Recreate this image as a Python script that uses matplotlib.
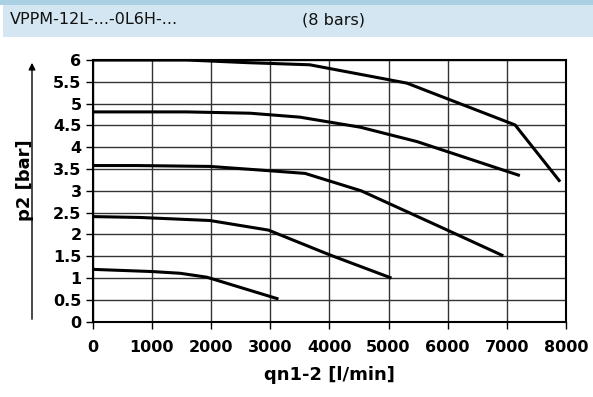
import matplotlib.pyplot as plt
from matplotlib.patches import Rectangle

# flow [l/min] vs outlet pressure [bar], one curve per set pressure
q_6 = [0, 1590, 2600, 3670, 5310, 7140, 7900]
p_6 = [6.0, 6.0, 5.94, 5.89, 5.47, 4.51, 3.21]

q_48 = [0, 1590, 2660, 3500, 4520, 5480, 7220]
p_48 = [4.81, 4.81, 4.78, 4.69, 4.46, 4.13, 3.35]

q_355 = [0, 740, 1980, 3000, 3590, 4540, 6010, 6940]
p_355 = [3.58, 3.58, 3.56, 3.46, 3.40, 3.0, 2.09, 1.51]

q_24 = [0, 800, 1980, 2970, 4010, 5050]
p_24 = [2.41, 2.39, 2.32, 2.10, 1.53, 1.0]

q_12 = [0, 1000, 1480, 1930, 3140]
p_12 = [1.2, 1.15, 1.11, 1.02, 0.52]

x_ticks = [0, 1000, 2000, 3000, 4000, 5000, 6000, 7000, 8000]
y_ticks = [0, 0.5, 1, 1.5, 2, 2.5, 3, 3.5, 4, 4.5, 5, 5.5, 6]
y_tick_labels = ["0", "0.5", "1", "1.5", "2", "2.5", "3", "3.5", "4", "4.5", "5", "5.5", "6"]

title_left = "VPPM-12L-...-0L6H-..."
title_right = "(8 bars)"

plt.rcParams["font.family"] = "DejaVu Sans"

fig = plt.figure(figsize=(5.93, 3.97), dpi=100)

# header band
fig.patches.append(Rectangle((0, 1 - 5 / 397), 1, 5 / 397, transform=fig.transFigure,
                             facecolor="#a9d1e3", edgecolor="none"))
fig.patches.append(Rectangle((3 / 593, 1 - 37 / 397), 1, 32 / 397, transform=fig.transFigure,
                             facecolor="#d3e6f1", edgecolor="none"))
fig.text(10 / 593, 1 - 20 / 397, title_left, fontsize=11.5, va="center", ha="left", color="#111111")
fig.text(302 / 593, 1 - 20 / 397, title_right, fontsize=11.5, va="center", ha="left", color="#111111")

ax = fig.add_axes([92.7 / 593, 1 - 321.7 / 397, (566 - 92.7) / 593, (321.7 - 60) / 397])

for q, p in [(q_6, p_6), (q_48, p_48), (q_355, p_355), (q_24, p_24), (q_12, p_12)]:
    ax.plot(q, p, color="black", lw=2.2, solid_capstyle="butt", zorder=3)

ax.set_xlim(0, 8000)
ax.set_ylim(0, 6)
ax.set_xticks(x_ticks)
ax.set_yticks(y_ticks)
ax.set_yticklabels(y_tick_labels)
ax.grid(True, color="#333333", lw=1.0)
for s in ax.spines.values():
    s.set_linewidth(1.5)
ax.tick_params(direction="out", length=5, width=1, pad=3, labelsize=11.5)
for lab in ax.get_xticklabels() + ax.get_yticklabels():
    lab.set_fontweight("bold")
ax.tick_params(axis="x", pad=8)

ax.set_xlabel("qn1-2 [l/min]", fontsize=13, fontweight="bold", labelpad=8)

# y label with arrow
fig.text(25 / 593, 1 - 180 / 397, "p2 [bar]", fontsize=13, fontweight="bold",
         rotation=90, va="center", ha="center")
ax.annotate("", xy=(32 / 593, 1 - 60 / 397), xytext=(32 / 593, 1 - 322 / 397),
            xycoords="figure fraction", textcoords="figure fraction",
            arrowprops=dict(arrowstyle="-|>", lw=1.0, color="black", mutation_scale=10))

fig.savefig("out.png", dpi=100)
